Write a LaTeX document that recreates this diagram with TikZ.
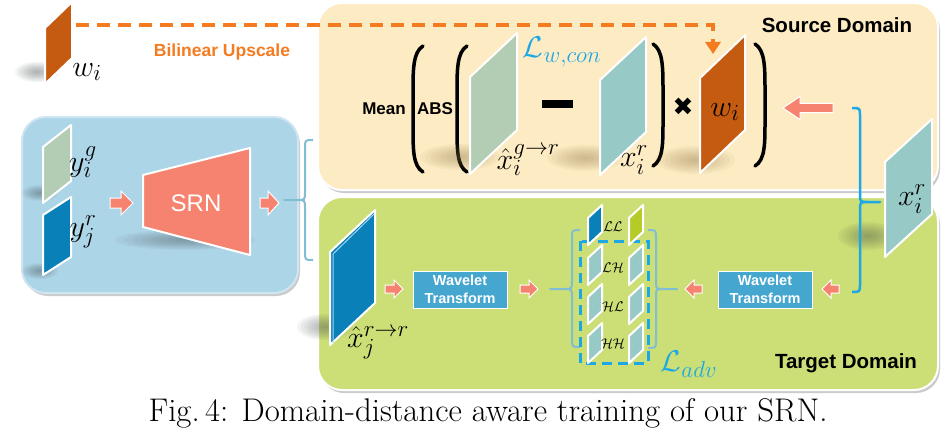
\RequirePackage{fix-cm}
\documentclass[tikz,border=0pt]{standalone}
\usepackage{fontspec}
\setsansfont{Liberation Sans}
\newfontfamily\symfont{DejaVu Sans}
\usetikzlibrary{arrows.meta,shadows}
\DeclareMathSizes{30}{30}{23}{17}
\DeclareMathSizes{14}{14}{10}{8}
\definecolor{srcbg}{HTML}{FDEBC3}
\definecolor{tgtbg}{HTML}{CCDE76}
\definecolor{bluebg}{HTML}{ADD5E8}
\definecolor{orplane}{HTML}{C55A11}
\definecolor{ordash}{HTML}{F47B20}
\definecolor{grplane}{HTML}{B2CDB3}
\definecolor{teplane}{HTML}{97C9C6}
\definecolor{blplane}{HTML}{0A80B8}
\definecolor{llgreen}{HTML}{B4CB28}
\definecolor{salmon}{HTML}{F5836F}
\definecolor{wtbox}{HTML}{45A6D0}
\definecolor{cyanl}{HTML}{1CA8E6}
\definecolor{bracec}{HTML}{80BED3}
\definecolor{shbrown}{HTML}{8C7440}
\definecolor{shgray}{HTML}{404848}
\definecolor{edgeblue}{HTML}{9FD8F0}
\newcommand{\myplane}[6]{%
  \filldraw[fill=#6, plane] (#1,#2) -- ++(#3,-#4) -- ++(0,#5) -- ++(-#3,#4) -- cycle;}
\newcommand{\softshadow}[5]{%
  \foreach \k in {1,...,8}{\fill[#5, opacity=0.06] (#1,#2) ellipse ({#3*\k/8} and {#4*\k/8});}}
\newcommand{\bracepath}[8]{%
  \draw[#8] (#1,#5) .. controls (#2,#5) .. (#2,{#5+8}) -- (#2,{#6-8})
    .. controls (#2,#6) .. (#3,#6) -- (#4,#6) -- (#3,#6)
    .. controls (#2,#6) .. (#2,{#6+8}) -- (#2,{#7-8}) .. controls (#2,#7) .. (#1,#7);}
% block arrow: tail x, head-base x, tip x, y, shaft half, head half
\newcommand{\blockarrow}[6]{%
  \filldraw[barrow] (#1,{#4-#5}) -- (#2,{#4-#5}) -- (#2,{#4-#6}) -- (#3,#4)
    -- (#2,{#4+#6}) -- (#2,{#4+#5}) -- (#1,{#4+#5}) -- cycle;}
\tikzset{
  plane/.style={draw=white, line width=2pt, line join=round},
  mlab/.style={font=\fontsize{30}{34}\selectfont, inner sep=0pt},
  slab/.style={font=\fontsize{14}{16}\selectfont, inner sep=0pt},
  domainbox/.style={rectangle, rounded corners=24pt, draw=white, line width=2pt,
    drop shadow={shadow xshift=2pt, shadow yshift=-3pt, fill=black!40}},
  barrow/.style={fill=salmon, draw=white, line width=1pt, line join=miter},
  wtnode/.style={rectangle, fill=wtbox, draw=white, line width=1pt, minimum width=94pt,
    minimum height=37pt, inner sep=0pt, align=center, text=white,
    font=\sffamily\bfseries\fontsize{14.5}{18}\selectfont},
  paren/.style={line width=3.5pt, line cap=round},
  bracelt/.style={bracec, line width=2pt, line join=round},
  bracecy/.style={cyanl, line width=2.5pt, line join=round},
}
\begin{document}
\begin{tikzpicture}[x=1pt, y=-1pt]
\useasboundingbox (0,0) rectangle (943,444);
\fill[white] (0,0) rectangle (943,444);

% containers
\node[domainbox, fill=bluebg, draw=bluebg!60!white, minimum width=276pt, minimum height=176pt] (blue) at (160,205) {};
\node[domainbox, fill=srcbg, minimum width=620pt, minimum height=187pt] (src) at (628,96.5) {};
\node[domainbox, fill=tgtbg, minimum width=620pt, minimum height=193pt] (tgt) at (628,293.5) {};

% domain titles
\node[font=\sffamily\bfseries\fontsize{20.5}{24}\selectfont] (srct) at (837,25) {Source Domain};
\node[font=\sffamily\bfseries\fontsize{20.5}{24}\selectfont] (tgtt) at (846,363) {Target Domain};

% top-left weight map
\softshadow{37}{72}{22}{10}{shgray}
\myplane{45}{28}{27}{26}{56}{orplane}
\node[mlab] (lwi) at (87,72) {$w_i$};
\node[font=\sffamily\bfseries\fontsize{17.5}{20}\selectfont, text=ordash] (bil) at (222,52) {Bilinear Upscale};
\coordinate (d0) at (76,25);
\coordinate (d1) at (713,54);
\draw[ordash, line width=4pt, dash pattern=on 13pt off 8pt, -{Triangle[width=15pt,length=12pt]}] (d0) -| (d1);

% source domain formula
\node[font=\sffamily\bfseries\fontsize{17}{20}\selectfont, inner sep=0pt] (mean) at (384,109) {Mean};
\node[font=\sffamily\bfseries\fontsize{17}{20}\selectfont, inner sep=0pt] (abs) at (435,109) {ABS};
\draw[paren] (423,46) .. controls (413,52) and (413,70) .. (413,92) -- (413,126) .. controls (413,150) and (413,166) .. (423,172);
\draw[paren] (467,46) .. controls (457,52) and (457,70) .. (457,92) -- (457,126) .. controls (457,150) and (457,166) .. (467,172);
\draw[paren] (653,44) .. controls (663,50) and (663,68) .. (663,90) -- (663,122) .. controls (663,144) and (663,160) .. (653,166);
\draw[paren] (755,44) .. controls (765,50) and (765,68) .. (765,90) -- (765,122) .. controls (765,144) and (765,160) .. (755,166);

\softshadow{460}{157}{40}{13}{shbrown}
\myplane{470}{77}{47}{44}{97}{grplane}
\fill (542,100) rectangle (573,108);
\softshadow{585}{158}{38}{13}{shbrown}
\myplane{600}{80}{46}{43}{95}{teplane}
\node[font=\symfont\fontsize{25}{28}\selectfont, inner sep=0pt] (times) at (683,107) {✖};
\softshadow{695}{160}{40}{14}{shbrown}
\myplane{700}{78}{45}{43}{95}{orplane}
\node[mlab, text=cyanl] (lwcon) at (562,52) {$\mathcal{L}_{w,con}$};
\node[mlab] (lxg) at (528,160) {$\hat{x}_i^{g\rightarrow r}$};
\node[mlab] (lxr) at (634,160) {$x_i^r$};
\node[mlab] (lwi2) at (725,112) {$w_i$};
\blockarrow{833}{800}{783}{108}{4.5}{11.5}

% right real image
\softshadow{868}{236}{30}{14}{shgray}
\myplane{885}{162}{47}{43}{95}{teplane}
\node[mlab] (lxr2) at (912,199) {$x_i^r$};
\bracepath{852}{860}{868}{880}{108}{202}{292}{bracecy}

% left SRN panel
\softshadow{40}{193}{18}{8}{shgray}
\myplane{43}{147}{28}{22}{56}{grplane}
\softshadow{40}{271}{18}{8}{shgray}
\myplane{43}{215}{28}{18}{60}{blplane}
\node[mlab] (lyg) at (83,162) {$y_i^g$};
\node[mlab] (lyr) at (83,232) {$y_j^r$};
\blockarrow{110}{121}{133}{203}{5}{12}
\softshadow{185}{240}{70}{10}{shgray}
\filldraw[fill=salmon, draw=white, line width=2pt, line join=round] (143,175) -- (250,148) -- (250,255) -- (143,227) -- cycle;
\node[font=\sffamily\fontsize{24}{28}\selectfont, text=white] (srn) at (196,203) {SRN};
\blockarrow{260}{268}{279}{203}{5}{12}
\bracepath{313}{305}{297}{284}{140}{200}{260}{bracelt}

% target domain
\softshadow{325}{327}{28}{13}{shgray}
\myplane{330}{252}{45}{42}{93}{blplane}
\draw[edgeblue, line width=1pt] (333,343) -- (333,254) -- (374,214);
\node[mlab] (lxj) at (378,343) {$\hat{x}_j^{r\rightarrow r}$};
\blockarrow{385}{394}{403}{289}{4}{9}
\node[wtnode] (wt1) at (460,289.5) {Wavelet\\Transform};
\blockarrow{520}{529}{538}{289}{4}{9}
\node[wtnode] (wt2) at (765,289.5) {Wavelet\\Transform};
\blockarrow{702}{694}{685}{289}{4}{9}
\blockarrow{839}{831}{822}{289}{4}{9}

\bracepath{580}{572}{564}{550}{230}{289}{347}{bracelt}
\bracepath{648}{656}{664}{677}{230}{289}{348}{bracelt}
\draw[cyanl, line width=3pt, dash pattern=on 10pt off 6pt] (580,241) rectangle (648,363);
\myplane{588}{218}{14}{13}{27}{blplane}
\myplane{629}{218}{14}{13}{27}{llgreen}
\foreach \yy in {258,297,336}{
  \myplane{588}{\yy}{14}{13}{27}{teplane}
  \myplane{629}{\yy}{14}{13}{27}{teplane}
}
\node[slab] (ll) at (613,227) {$\mathcal{LL}$};
\node[slab] (lh) at (613,268) {$\mathcal{LH}$};
\node[slab] (hl) at (613,307) {$\mathcal{HL}$};
\node[slab] (hh) at (613,344) {$\mathcal{HH}$};
\node[mlab, text=cyanl] (ladv) at (689,364) {$\mathcal{L}_{adv}$};

% caption
\node[font=\fontsize{32.8}{36}\selectfont, inner sep=0pt, anchor=base] (cap) at (488,421) {Fig.\,4: Domain-distance aware training of our SRN.};
\end{tikzpicture}
\end{document}
